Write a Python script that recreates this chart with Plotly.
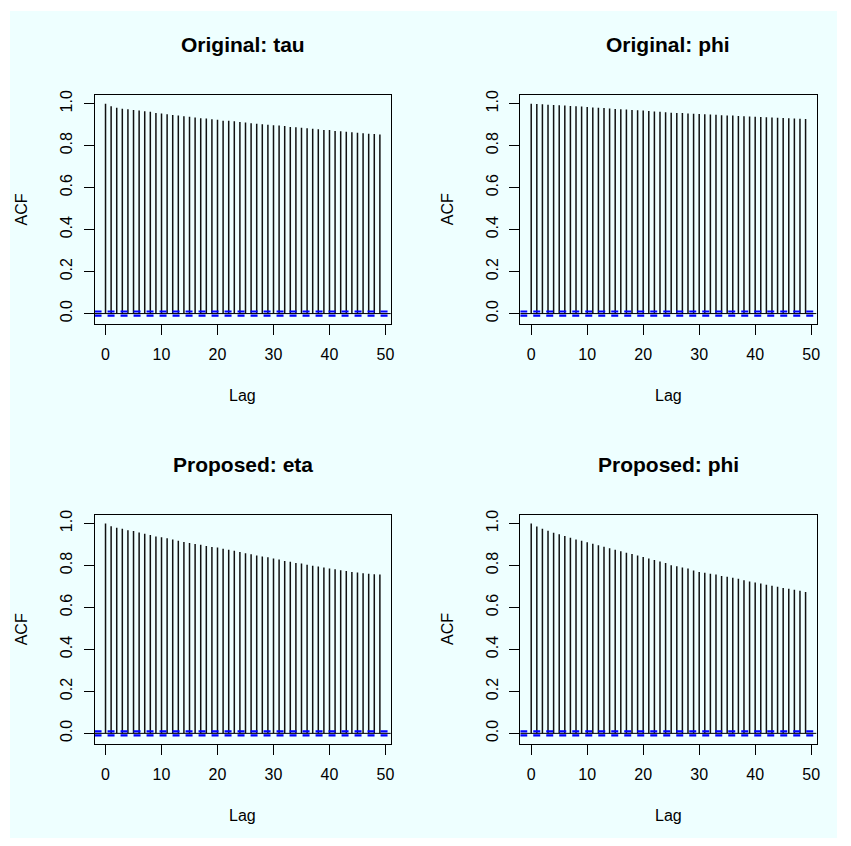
import plotly.graph_objects as go

# ---- data -------------------------------------------------------------
lags = list(range(50))

acf_original_tau = [
    1.000, 0.987, 0.981, 0.976, 0.973, 0.970, 0.967, 0.964, 0.961, 0.956,
    0.953, 0.949, 0.946, 0.943, 0.940, 0.937, 0.934, 0.930, 0.929, 0.926,
    0.923, 0.919, 0.918, 0.916, 0.913, 0.910, 0.907, 0.904, 0.902, 0.899,
    0.897, 0.896, 0.893, 0.889, 0.888, 0.885, 0.883, 0.880, 0.878, 0.875,
    0.874, 0.870, 0.869, 0.866, 0.864, 0.861, 0.859, 0.856, 0.855, 0.853,
]
acf_original_phi = [
    1.000, 0.998, 0.997, 0.995, 0.994, 0.992, 0.991, 0.989, 0.987, 0.986,
    0.984, 0.982, 0.980, 0.979, 0.977, 0.975, 0.973, 0.972, 0.970, 0.968,
    0.967, 0.965, 0.963, 0.961, 0.959, 0.957, 0.956, 0.955, 0.953, 0.952,
    0.951, 0.949, 0.948, 0.947, 0.945, 0.944, 0.943, 0.941, 0.940, 0.939,
    0.937, 0.936, 0.935, 0.934, 0.933, 0.931, 0.930, 0.929, 0.928, 0.927,
]
acf_proposed_eta = [
    1.000, 0.987, 0.979, 0.975, 0.968, 0.964, 0.957, 0.951, 0.945, 0.938,
    0.934, 0.929, 0.923, 0.918, 0.912, 0.907, 0.902, 0.899, 0.893, 0.888,
    0.885, 0.880, 0.875, 0.870, 0.864, 0.858, 0.853, 0.847, 0.842, 0.839,
    0.833, 0.828, 0.821, 0.818, 0.812, 0.809, 0.803, 0.799, 0.795, 0.790,
    0.785, 0.782, 0.777, 0.774, 0.769, 0.766, 0.763, 0.760, 0.758, 0.757,
]
acf_proposed_phi = [
    1.000, 0.985, 0.975, 0.965, 0.956, 0.948, 0.940, 0.932, 0.924, 0.917,
    0.910, 0.903, 0.896, 0.889, 0.882, 0.875, 0.868, 0.861, 0.854, 0.847,
    0.840, 0.833, 0.826, 0.819, 0.812, 0.801, 0.796, 0.790, 0.785, 0.776,
    0.769, 0.765, 0.760, 0.757, 0.750, 0.746, 0.741, 0.736, 0.730, 0.724,
    0.719, 0.714, 0.708, 0.703, 0.698, 0.693, 0.689, 0.684, 0.679, 0.673,
]

panel_titles = ["Original: tau", "Original: phi", "Proposed: eta", "Proposed: phi"]
panel_series = [acf_original_tau, acf_original_phi, acf_proposed_eta, acf_proposed_phi]

# 95% white-noise bound drawn as blue dashed lines
conf_bound = 0.0098

x_ticks = [0, 10, 20, 30, 40, 50]
y_ticks = [0.0, 0.2, 0.4, 0.6, 0.8, 1.0]

# ---- layout geometry (pixels) ----------------------------------------
W, H = 851, 846
BG = "#EEFFFF"
FONT = "Liberation Sans, Arial, Helvetica, sans-serif"

# plot-box corners: (left, right, top, bottom)
boxes = [
    (95.0, 392.7, 90.7, 321.0),
    (522.7, 820.4, 90.7, 321.0),
    (95.0, 392.7, 513.0, 743.3),
    (522.7, 820.4, 513.0, 743.3),
]

n_lag = len(lags)
x_pad = 0.04 * (n_lag - 1)
x_range = [-x_pad, (n_lag - 1) + x_pad]
y_lo, y_hi = -conf_bound, 1.0
y_pad = 0.04 * (y_hi - y_lo)
y_range = [y_lo - y_pad, y_hi + y_pad]

fig = go.Figure()

layout_axes = {}
annotations = []
shapes = [
    dict(type="rect", xref="paper", yref="paper",
         x0=10 / W, x1=841 / W, y0=1 - 838 / H, y1=1 - 6 / H,
         fillcolor=BG, line=dict(width=0), layer="below"),
]

for i, (title, acf) in enumerate(zip(panel_titles, panel_series)):
    k = i + 1
    xa = "x" if k == 1 else f"x{k}"
    ya = "y" if k == 1 else f"y{k}"
    left, right, top, bottom = boxes[i]

    # vertical stems from zero up to each autocorrelation
    sx, sy = [], []
    for lag, v in zip(lags, acf):
        sx += [lag, lag, None]
        sy += [0, v, None]
    fig.add_trace(go.Scatter(
        x=sx, y=sy, mode="lines", xaxis=xa, yaxis=ya,
        line=dict(color="#111111", width=1.5), hoverinfo="skip",
        showlegend=False,
    ))

    # confidence bounds
    for b in (conf_bound, -conf_bound):
        fig.add_trace(go.Scatter(
            x=x_range, y=[b, b], mode="lines", xaxis=xa, yaxis=ya,
            line=dict(color="#0000FF", width=2.2, dash="7px,6px"),
            showlegend=False, hoverinfo="skip",
        ))
    # zero reference line
    fig.add_trace(go.Scatter(
        x=x_range, y=[0, 0], mode="lines", xaxis=xa, yaxis=ya,
        line=dict(color="black", width=1), showlegend=False, hoverinfo="skip",
    ))

    xkey = "xaxis" if k == 1 else f"xaxis{k}"
    ykey = "yaxis" if k == 1 else f"yaxis{k}"
    layout_axes[xkey] = dict(
        domain=[left / W, right / W], anchor=ya, range=x_range,
        showgrid=False, zeroline=False, showline=True, mirror=True,
        linecolor="black", linewidth=1,
        ticks="outside", ticklen=10, tickwidth=1, tickcolor="black",
        tickvals=x_ticks, ticktext=[str(t) for t in x_ticks],
        tickfont=dict(family=FONT, size=16, color="black"),
        ticklabelstandoff=6,
    )
    layout_axes[ykey] = dict(
        domain=[1 - bottom / H, 1 - top / H], anchor=xa, range=y_range,
        showgrid=False, zeroline=False, showline=True, mirror=True,
        linecolor="black", linewidth=1,
        ticks="outside", ticklen=10, tickwidth=1, tickcolor="black",
        tickvals=y_ticks, ticktext=[f"{t:.1f}" for t in y_ticks],
        tickangle=-90,
        tickfont=dict(family=FONT, size=16, color="black"),
        ticklabelstandoff=5,
    )

    cx = (left + right) / 2
    cy = (top + bottom) / 2
    annotations.append(dict(
        text=f"<b>{title}</b>", x=cx / W, y=1 - (top - 51) / H,
        xref="paper", yref="paper", xanchor="center", yanchor="middle",
        showarrow=False, font=dict(family=FONT, size=21, color="black"),
    ))
    annotations.append(dict(
        text="Lag", x=cx / W, y=1 - (bottom + 72) / H,
        xref="paper", yref="paper", xanchor="center", yanchor="middle",
        showarrow=False, font=dict(family=FONT, size=16, color="black"),
    ))
    annotations.append(dict(
        text="ACF", x=(left - 73) / W, y=1 - cy / H, textangle=-90,
        xref="paper", yref="paper", xanchor="center", yanchor="middle",
        showarrow=False, font=dict(family=FONT, size=16, color="black"),
    ))

fig.update_layout(
    width=W, height=H,
    margin=dict(l=0, r=0, t=0, b=0),
    paper_bgcolor="white", plot_bgcolor=BG,
    annotations=annotations, shapes=shapes,
    **layout_axes,
)

fig.write_html("out.html", config={"displayModeBar": False})
